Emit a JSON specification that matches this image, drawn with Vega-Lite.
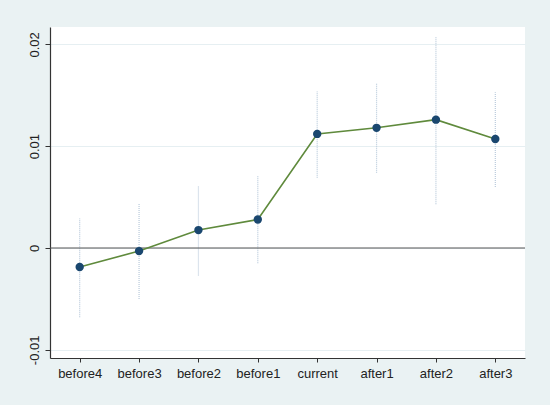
{
  "$schema": "https://vega.github.io/schema/vega-lite/v6.json",
  "autosize": "none",
  "width": 475,
  "height": 331,
  "padding": {"left": 50, "top": 27, "right": 25, "bottom": 47},
  "background": "#eaf2f3",
  "config": {
    "view": {"fill": "white", "stroke": null},
    "font": "Liberation Sans"
  },
  "data": {
    "values": [
      {"period": "before4", "coef": -0.00186, "lo": -0.0068, "hi": 0.0029},
      {"period": "before3", "coef": -0.0003, "lo": -0.0050, "hi": 0.0044},
      {"period": "before2", "coef": 0.00176, "lo": -0.0027, "hi": 0.0061},
      {"period": "before1", "coef": 0.0028, "lo": -0.0015, "hi": 0.0071},
      {"period": "current", "coef": 0.0112, "lo": 0.0069, "hi": 0.0154},
      {"period": "after1", "coef": 0.0118, "lo": 0.0074, "hi": 0.0162},
      {"period": "after2", "coef": 0.0126, "lo": 0.0043, "hi": 0.0208},
      {"period": "after3", "coef": 0.0107, "lo": 0.0060, "hi": 0.0153}
    ]
  },
  "encoding": {
    "x": {
      "field": "period",
      "type": "ordinal",
      "sort": null,
      "scale": {"type": "point", "padding": 0.5},
      "axis": {
        "title": null,
        "labelAngle": 0,
        "labelFontSize": 13,
        "labelColor": "#222",
        "labelPadding": 5,
        "domainColor": "#333",
        "domainWidth": 1.2,
        "tickColor": "#333",
        "tickSize": 4,
        "grid": false
      }
    }
  },
  "layer": [
    {
      "mark": {"type": "rule", "color": "#b9cadb", "strokeDash": [1, 1], "strokeWidth": 1.2},
      "encoding": {
        "y": {
          "field": "lo",
          "type": "quantitative",
          "scale": {"domain": [-0.0108, 0.0217], "nice": false, "zero": false},
          "axis": {
            "title": null,
            "values": [-0.01, 0, 0.01, 0.02],
            "labelExpr": "datum.value === 0 ? '0' : (datum.value < 0 ? '-' : '') + format(abs(datum.value), '.2f')",
            "labelAngle": -90,
            "labelFontSize": 13,
            "labelColor": "#222",
            "labelPadding": 4,
            "domainColor": "#333",
            "domainWidth": 1.2,
            "tickColor": "#333",
            "tickSize": 5,
            "grid": true,
            "gridColor": "#e6eff2",
            "gridWidth": 1
          }
        },
        "y2": {"field": "hi"}
      }
    },
    {
      "mark": {"type": "rule", "color": "#555", "strokeWidth": 1.2},
      "data": {"values": [{"zero": 0}]},
      "encoding": {
        "x": null,
        "y": {"field": "zero", "type": "quantitative"}
      }
    },
    {
      "mark": {"type": "line", "color": "#5f8a3c", "strokeWidth": 1.6},
      "encoding": {"y": {"field": "coef", "type": "quantitative"}}
    },
    {
      "mark": {"type": "point", "filled": true, "color": "#1a476f", "opacity": 1, "size": 70},
      "encoding": {"y": {"field": "coef", "type": "quantitative"}}
    }
  ]
}
